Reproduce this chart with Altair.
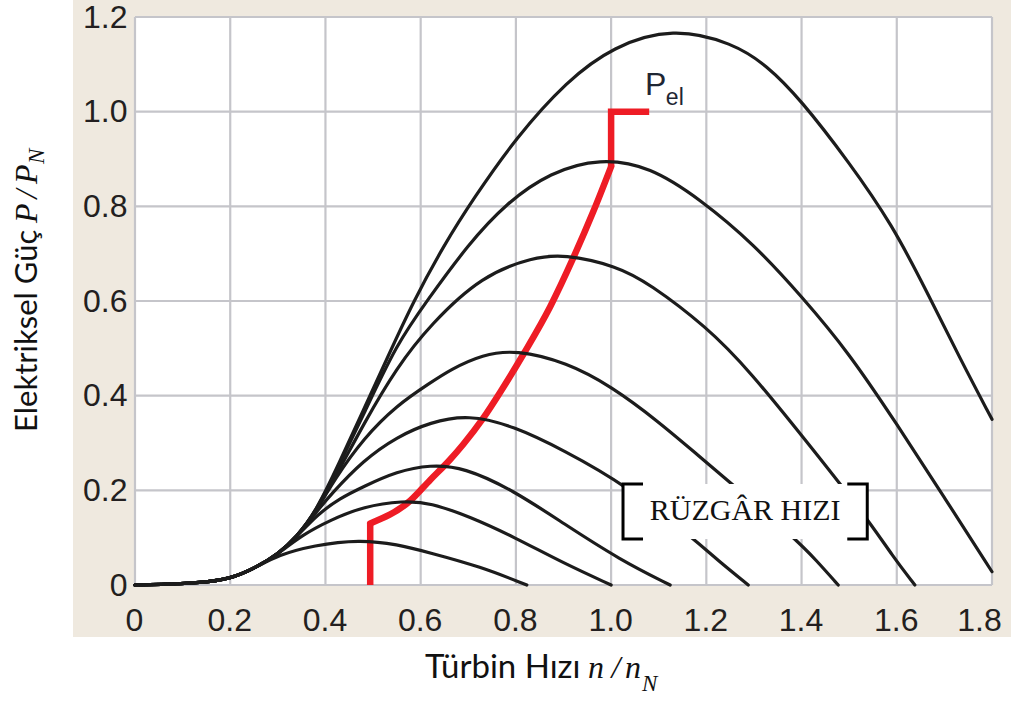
import altair as alt
import pandas as pd

# Axis ticks
X_TICKS = [0.0, 0.2, 0.4, 0.6, 0.8, 1.0, 1.2, 1.4, 1.6, 1.8]
Y_TICKS = [0.0, 0.2, 0.4, 0.6, 0.8, 1.0, 1.2]

# Low-speed section shared by every wind-speed curve before they fan out
TRUNK_N = [0.0, 0.05, 0.13, 0.20, 0.256, 0.30, 0.34, 0.38]
TRUNK_P = [0.0, 0.001, 0.004, 0.012, 0.038, 0.065, 0.102, 0.155]

# Turbine power curves, one per wind speed (highest first)
C1_N = [0.43, 0.48, 0.53, 0.585, 0.65, 0.71, 0.80, 0.907, 1.004, 1.13, 1.256, 1.327, 1.397, 1.50, 1.59, 1.663, 1.733, 1.80]
C1_P = [0.26, 0.37, 0.48, 0.60, 0.72, 0.815, 0.945, 1.065, 1.138, 1.178, 1.145, 1.098, 1.027, 0.893, 0.762, 0.62, 0.478, 0.35]
C2_N = [0.43, 0.48, 0.55, 0.613, 0.70, 0.78, 0.872, 0.977, 1.082, 1.187, 1.30, 1.40, 1.50, 1.60, 1.70, 1.80]
C2_P = [0.255, 0.36, 0.51, 0.60, 0.72, 0.807, 0.872, 0.902, 0.884, 0.815, 0.72, 0.61, 0.49, 0.34, 0.185, 0.028]
C3_N = [0.43, 0.48, 0.55, 0.62, 0.73, 0.837, 0.90, 1.012, 1.08, 1.20, 1.29, 1.425, 1.537, 1.592, 1.638]
C3_P = [0.245, 0.34, 0.46, 0.55, 0.655, 0.692, 0.699, 0.674, 0.637, 0.546, 0.454, 0.285, 0.142, 0.06, 0.0]
C4_N = [0.42, 0.48, 0.55, 0.62, 0.662, 0.73, 0.80, 0.907, 1.0, 1.10, 1.187, 1.236, 1.39, 1.43, 1.477]
C4_P = [0.225, 0.31, 0.38, 0.427, 0.455, 0.487, 0.497, 0.47, 0.42, 0.345, 0.27, 0.229, 0.095, 0.053, 0.0]
C5_N = [0.38, 0.41, 0.48, 0.55, 0.62, 0.70, 0.795, 0.90, 1.03, 1.18, 1.223, 1.288]
C5_P = [0.153, 0.19, 0.264, 0.313, 0.344, 0.36, 0.336, 0.285, 0.212, 0.092, 0.053, 0.0]
C6_N = [0.382, 0.43, 0.48, 0.55, 0.62, 0.69, 0.795, 0.90, 1.019, 1.124]
C6_P = [0.148, 0.183, 0.208, 0.24, 0.254, 0.249, 0.20, 0.13, 0.053, 0.0]
C7_N = [0.35, 0.41, 0.48, 0.564, 0.62, 0.704, 0.795, 0.90, 1.0]
C7_P = [0.105, 0.137, 0.166, 0.178, 0.174, 0.144, 0.102, 0.046, 0.0]
C8_N = [0.30, 0.375, 0.473, 0.55, 0.62, 0.725, 0.823]
C8_P = [0.063, 0.084, 0.096, 0.086, 0.068, 0.039, 0.0]

# (number of shared trunk points, own n values, own p values)
CURVES = [
    (8, C1_N, C1_P),
    (8, C2_N, C2_P),
    (8, C3_N, C3_P),
    (8, C4_N, C4_P),
    (7, C5_N, C5_P),
    (7, C6_N, C6_P),
    (6, C7_N, C7_P),
    (5, C8_N, C8_P),
]

# Electrical output: cut-in step, optimum operating line, rated-power step
PEL_CUTIN_N = [0.494, 0.494]
PEL_CUTIN_P = [0.0, 0.13]
PEL_OPT_N = [0.494, 0.578, 0.62, 0.66, 0.69, 0.731, 0.77, 0.816, 0.872, 0.92, 0.963, 1.0]
PEL_OPT_P = [0.13, 0.178, 0.222, 0.263, 0.298, 0.352, 0.412, 0.488, 0.588, 0.69, 0.79, 0.884]
PEL_RATED_N = [1.0, 1.0, 1.08]
PEL_RATED_P = [0.884, 1.0, 1.0]

W, H = 857, 568
BEIGE = "#efe9df"
GRID = "#c5c5ca"
INK = "#1c1c1c"
LABEL = "#231f20"
RED = "#ee1c25"

rows = []
for k, (share, ns, ps) in enumerate(CURVES):
    xs_ = TRUNK_N[:share] + ns
    ys_ = TRUNK_P[:share] + ps
    for i, (a, b) in enumerate(zip(xs_, ys_)):
        rows.append({"curve": k, "i": i, "n": a, "p": b})
curves_df = pd.DataFrame(rows)

steps_df = pd.DataFrame({
    "seg": ["a"] * len(PEL_CUTIN_N) + ["b"] * len(PEL_RATED_N),
    "n": PEL_CUTIN_N + PEL_RATED_N,
    "p": PEL_CUTIN_P + PEL_RATED_P,
    "i": list(range(len(PEL_CUTIN_N))) + list(range(len(PEL_RATED_N))),
})
opt_df = pd.DataFrame({"n": PEL_OPT_N, "p": PEL_OPT_P, "i": list(range(len(PEL_OPT_N)))})

x_scale = alt.Scale(domain=[0, 1.8], nice=False, zero=False)
y_scale = alt.Scale(domain=[0, 1.2], nice=False, zero=False)
label_expr = "datum.value == 0 ? '0' : format(datum.value, '.1f')"
axis_common = dict(
    labelExpr=label_expr, grid=False, domain=False, ticks=False, tickSize=0,
    labelFont="Liberation Sans", labelFontSize=32, labelColor=LABEL,
    labelFlush=False, labelOverlap=False, labelBound=False, zindex=1, title="",
)
# the last x label is pulled left so it stays inside the panel
x_axis = alt.Axis(
    values=X_TICKS, labelPadding=20,
    labelOffset={"condition": {"test": "datum.value > 1.75", "value": -13}, "value": -1},
    **axis_common,
)
y_axis = alt.Axis(values=Y_TICKS, labelPadding=8, **axis_common)


def X(field):
    return alt.X(field, type="quantitative", scale=x_scale, axis=x_axis)


def Y(field):
    return alt.Y(field, type="quantitative", scale=y_scale, axis=y_axis)


one = pd.DataFrame({"k": [0]})

# beige panel behind the plot and its tick labels
panel = alt.Chart(one).mark_rect(color=BEIGE).encode(
    x=alt.value(-62), x2=alt.value(W + 19), y=alt.value(-17), y2=alt.value(H + 52)
)
plot_bg = alt.Chart(one).mark_rect(color="white").encode(
    x=alt.value(0), x2=alt.value(W), y=alt.value(0), y2=alt.value(H)
)

vgrid = alt.Chart(pd.DataFrame({"n": X_TICKS})).mark_rule(color=GRID, strokeWidth=2.2).encode(x=X("n"))
hgrid = alt.Chart(pd.DataFrame({"p": Y_TICKS})).mark_rule(color=GRID, strokeWidth=2.2).encode(y=Y("p"))

pel_steps = alt.Chart(steps_df).mark_line(
    color=RED, strokeWidth=6.5, strokeJoin="miter", strokeCap="butt", interpolate="linear"
).encode(x=X("n"), y=Y("p"), detail="seg:N", order="i:Q")
pel_opt = alt.Chart(opt_df).mark_line(
    color=RED, strokeWidth=6.5, strokeCap="round", interpolate="monotone"
).encode(x=X("n"), y=Y("p"), order="i:Q")

curve_lines = alt.Chart(curves_df).mark_line(
    color=INK, strokeWidth=3.2, interpolate="basis", strokeCap="round"
).encode(x=X("n"), y=Y("p"), detail="curve:N", order="i:Q")

# P_el label next to the rated-power step
pel_label = pd.DataFrame({"n": [1.071], "p": [1.036]})
pel_sub = pd.DataFrame({"n": [1.115], "p": [1.015]})
pel_p = alt.Chart(pel_label).mark_text(
    text="P", font="Liberation Sans", fontSize=32, align="left", baseline="alphabetic", color="#1e2633"
).encode(x=X("n"), y=Y("p"))
pel_el = alt.Chart(pel_sub).mark_text(
    text="el", font="Liberation Sans", fontSize=23, align="left", baseline="alphabetic", color="#1e2633"
).encode(x=X("n"), y=Y("p"))

# wind-speed tag: white box with square brackets
BOX_N0, BOX_N1 = 1.025, 1.538
BOX_P0, BOX_P1 = 0.097, 0.2135
TICK = 0.042
box_df = pd.DataFrame({"n": [BOX_N0], "n2": [BOX_N1], "p": [BOX_P0], "p2": [BOX_P1]})
box = alt.Chart(box_df).mark_rect(color="white").encode(
    x=X("n"), x2="n2", y=Y("p"), y2="p2"
)
br_df = pd.DataFrame({
    "side": ["l"] * 4 + ["r"] * 4,
    "i": [0, 1, 2, 3] * 2,
    "n": [BOX_N0 + TICK, BOX_N0, BOX_N0, BOX_N0 + TICK, BOX_N1 - TICK, BOX_N1, BOX_N1, BOX_N1 - TICK],
    "p": [BOX_P1, BOX_P1, BOX_P0, BOX_P0, BOX_P1, BOX_P1, BOX_P0, BOX_P0],
})
brackets = alt.Chart(br_df).mark_line(
    color="black", strokeWidth=3, strokeJoin="miter", strokeCap="butt"
).encode(x=X("n"), y=Y("p"), detail="side:N", order="i:Q")
box_text = alt.Chart(pd.DataFrame({"n": [(BOX_N0 + BOX_N1) / 2], "p": [0.137]})).mark_text(
    text="RÜZGÂR HIZI", font="Liberation Serif", fontSize=30, align="center",
    baseline="alphabetic", color="#111111"
).encode(x=X("n"), y=Y("p"))


def label(text, x, y, size, font="Lato", style="normal", align="left", angle=0):
    kw = dict(text=text, font=font, fontSize=size, fontStyle=style, align=align,
              baseline="alphabetic", color="#111111")
    if angle:
        kw["angle"] = angle
    return alt.Chart(one).mark_text(**kw).encode(x=alt.value(x), y=alt.value(y))


MATH = "Liberation Serif"
# x axis title: text plus the italic ratio n/n_N
x_title = [
    label("Türbin Hızı", 290, 661, 33),
    label("n", 453, 661, 32, font=MATH, style="italic"),
    label("/", 481, 661, 32, font=MATH, style="italic", align="center"),
    label("n", 490, 661, 32, font=MATH, style="italic"),
    label("N", 507, 674, 23, font=MATH, style="italic"),
]
# y axis title, reading bottom to top
y_title = [
    label("Elektriksel Güç", -98, 415, 31, angle=270),
    label("P", -98, 206, 32, font=MATH, style="italic", angle=270),
    label("/", -98, 177, 32, font=MATH, style="italic", align="center", angle=270),
    label("P", -98, 167, 32, font=MATH, style="italic", angle=270),
    label("N", -91, 147, 23, font=MATH, style="italic", angle=270),
]

chart = alt.layer(
    panel, plot_bg, vgrid, hgrid, pel_steps, pel_opt, curve_lines,
    box, brackets, box_text, pel_p, pel_el, *x_title, *y_title,
).properties(
    width=W, height=H,
    autosize=alt.AutoSizeParams(type="none"),
    padding={"left": 135, "top": 17, "right": 19, "bottom": 117},
    background="white",
).configure_view(stroke=None)

chart.save("out.html", embed_options={"renderer": "svg", "actions": False})
